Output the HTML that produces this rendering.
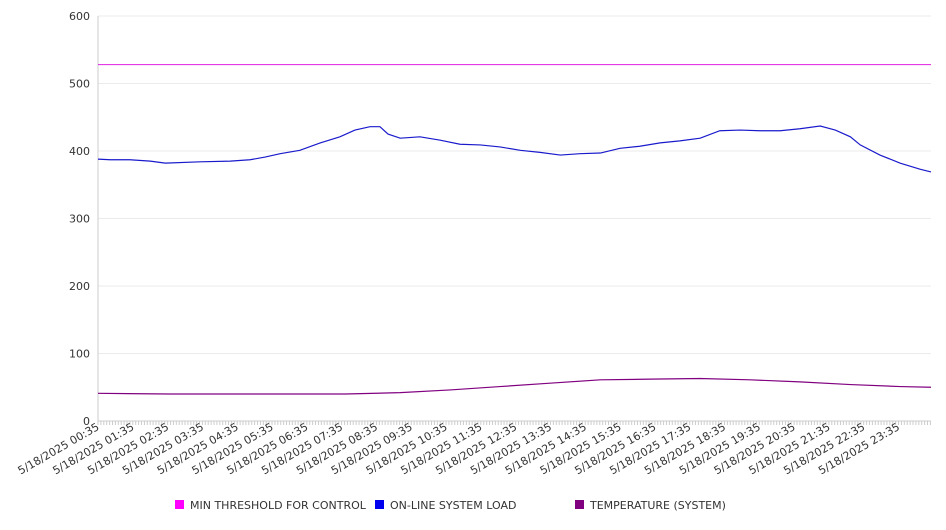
<!DOCTYPE html>
<html><head><meta charset="utf-8"><style>
body{margin:0;background:#fff;font-family:"DejaVu Sans","Liberation Sans",sans-serif}
svg text{font-family:"DejaVu Sans","Liberation Sans",sans-serif;fill:#333}
</style></head><body>
<svg id="c" width="946" height="526"></svg>
<script>
const yTicks=[0,100,200,300,400,500,600];
const xLabels=["00:35","01:35","02:35","03:35","04:35","05:35","06:35","07:35","08:35","09:35","10:35","11:35","12:35","13:35","14:35","15:35","16:35","17:35","18:35","19:35","20:35","21:35","22:35","23:35"];
const threshold=528;
const loadMin=[0,21,55,90,116,176,228,262,288,314,348,383,417,443,469,486,500,521,555,590,624,659,693,728,762,797,831,866,900,934,969,1003,1038,1072,1107,1141,1176,1210,1245,1271,1297,1314,1348,1383,1417,1436];
const loadVal=[388,387,387,385,382,384,385,387,391,396,401,412,421,431,436,436,425,419,421,416,410,409,406,401,398,394,396,397,404,407,412,415,419,430,431,430,430,433,437,431,421,409,394,382,373,369];
const tempMin=[0,124,426,521,607,693,779,866,952,1038,1124,1210,1297,1383,1436];
const tempVal=[41,40,40,42,46,51,56,61,62,63,61,58,54,51,50];
const L=98,R=931,T=16,B=421,SPAN=1436;
const svg=document.getElementById('c');
const NS='http://www.w3.org/2000/svg';
const xs=m=>L+(R-L)*Math.min(m,SPAN)/SPAN;
const ys=v=>B-(B-T)*v/600;
function mk(t,a,p){const e=document.createElementNS(NS,t);for(const k in a)e.setAttribute(k,a[k]);(p||svg).appendChild(e);return e;}
yTicks.forEach(v=>{
 const g=mk('line',{x1:L,x2:R,y1:ys(v),y2:ys(v),stroke:v?'#ebebeb':'#ccc'});
 
 
 const t=mk('text',{x:L-8,y:ys(v)+4,'text-anchor':'end','font-size':11});
 t.textContent=v;
 
 
});
const ax=mk('line',{x1:L,x2:L,y1:T,y2:B,stroke:'#ccc'});


for(let m=0;m<=SPAN;m+=5){const tk=mk('line',{x1:xs(m),x2:xs(m),y1:B,y2:B+4,stroke:'#ccc'});

}
xLabels.forEach((l,i)=>{
 const x=xs(i*60)+2,y=B+8;
 const t=mk('text',{x:x,y:y,'text-anchor':'end','font-size':11,transform:`rotate(-30 ${x} ${y})`});
 t.textContent='5/18/2025 '+l;
 
 
});
const th=mk('line',{x1:L,x2:R,y1:ys(threshold),y2:ys(threshold),stroke:'#e020e0','stroke-width':1});


function line(ms,vs,c,n){const p=mk('polyline',{points:ms.map((m,i)=>xs(m)+','+ys(vs[i])).join(' '),fill:'none',stroke:c,'stroke-width':1.2});

}
line(loadMin,loadVal,'#1a1acc','online-system-load-line');
line(tempMin,tempVal,'#800080','temperature-line');
[['MIN THRESHOLD FOR CONTROL','#ff00ff',175],['ON-LINE SYSTEM LOAD','#0000ee',375],['TEMPERATURE (SYSTEM)','#800080',575]].forEach(([n,c,x])=>{
 const r=mk('rect',{x:x,y:500,width:9,height:9,fill:c});
 
 
 const t=mk('text',{x:x+15,y:509,'font-size':11,fill:'#444'});
 t.textContent=n;
 
 
});
</script>
</body></html>
